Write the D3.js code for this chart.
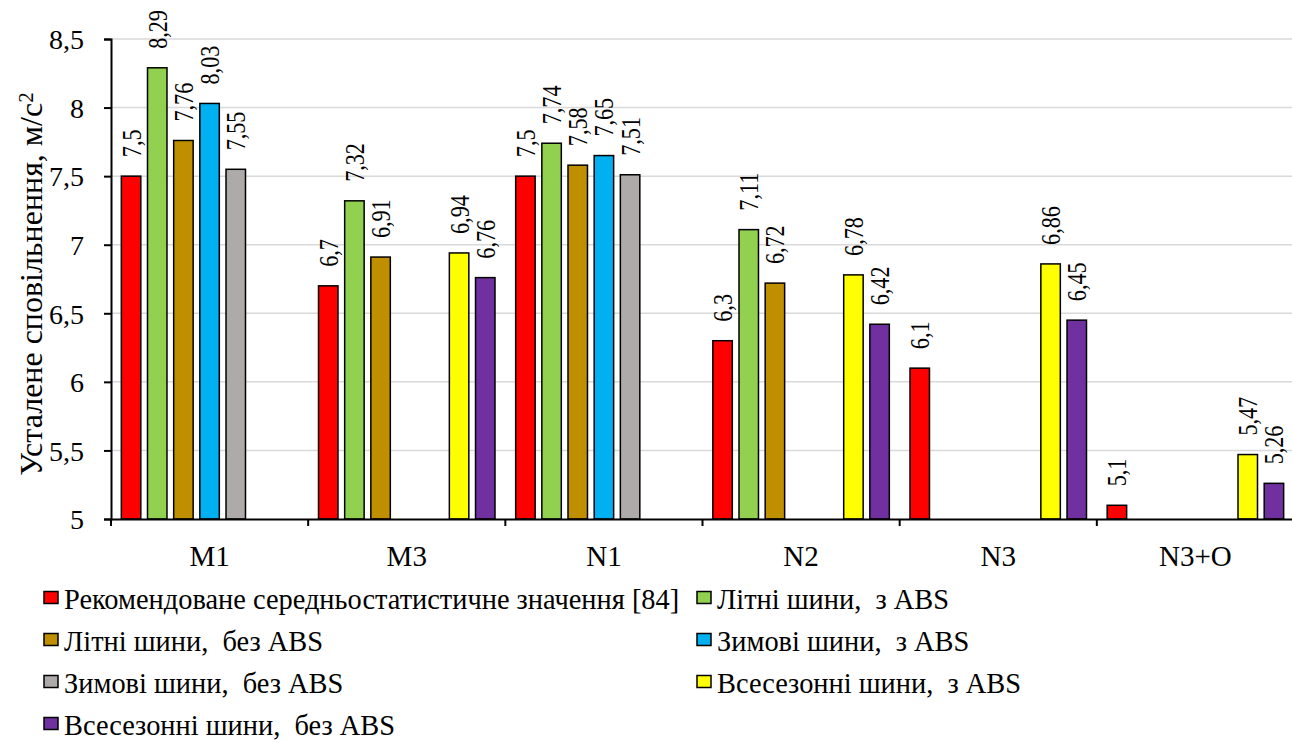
<!DOCTYPE html>
<html>
<head>
<meta charset="utf-8">
<script src="https://cdn.jsdelivr.net/npm/d3@7"></script>
<style>
  html, body { margin: 0; padding: 0; background: #fff; }
  svg { display: block; }
</style>
</head>
<body>
<svg id="chart" width="1292" height="740"></svg>
<script>
// Vehicle categories along the x axis
const categories = ["M1", "M3", "N1", "N2", "N3", "N3+O"];

// Series names (legend entries)
const seriesNames = [
  "Рекомендоване середньостатистичне значення [84]",
  "Літні шини,  з ABS",
  "Літні шини,  без ABS",
  "Зимові шини,  з ABS",
  "Зимові шини,  без ABS",
  "Всесезонні шини,  з ABS",
  "Всесезонні шини,  без ABS"
];

// Steady deceleration, m/s², one value per category (null = no bar)
const recommended    = [7.5, 6.7, 7.5, 6.3, 6.1, 5.1];
const summerABS      = [8.29, 7.32, 7.74, 7.11, null, null];
const summerNoABS    = [7.76, 6.91, 7.58, 6.72, null, null];
const winterABS      = [8.03, null, 7.65, null, null, null];
const winterNoABS    = [7.55, null, 7.51, null, null, null];
const allSeasonABS   = [null, 6.94, null, 6.78, 6.86, 5.47];
const allSeasonNoABS = [null, 6.76, null, 6.42, 6.45, 5.26];

const seriesValues = [recommended, summerABS, summerNoABS, winterABS, winterNoABS, allSeasonABS, allSeasonNoABS];
const seriesColors = ["#FF0000", "#92D050", "#BF8F00", "#00B0F0", "#AEAAAA", "#FFFF00", "#7030A0"];

// Y axis ticks
const yTicks = [5, 5.5, 6, 6.5, 7, 7.5, 8, 8.5];

const fmt = v => String(v).replace(".", ",");
const SERIF = "Liberation Serif";

const svg = d3.select("#chart");

const plot = { left: 111, right: 1294, top: 39, bottom: 519 };

const y = d3.scaleLinear().domain([5, 8.5]).range([plot.bottom, plot.top]);

const x0 = d3.scaleBand().domain(categories).range([plot.left, plot.right]).padding(0);
const x1 = d3.scaleBand().domain(d3.range(seriesNames.length))
  .range([0, x0.bandwidth()]).paddingInner(0.256).paddingOuter(0.395);

// Gridlines
svg.append("g").selectAll("line").data(yTicks.slice(1)).join("line")
  .attr("x1", plot.left).attr("x2", 1292)
  .attr("y1", d => y(d)).attr("y2", d => y(d))
  .attr("stroke", "#d9d9d9").attr("stroke-width", 1.5);

// Bars
const rows = [];
seriesValues.forEach((vals, s) => vals.forEach((v, c) => {
  if (v !== null) rows.push({ s, c: categories[c], v });
}));

svg.append("g").selectAll("rect").data(rows).join("rect")
  .attr("x", d => x0(d.c) + x1(d.s))
  .attr("width", x1.bandwidth())
  .attr("y", d => y(d.v))
  .attr("height", d => y(5) - y(d.v))
  .attr("fill", d => seriesColors[d.s])
  .attr("stroke", "#000").attr("stroke-width", 1.5);

// Value labels, rotated, above each bar
svg.append("g").selectAll("text").data(rows).join("text")
  .attr("transform", d => `translate(${x0(d.c) + x1(d.s) + x1.bandwidth() / 2},${y(d.v) - 19}) rotate(-90) scale(0.82,1)`)
  .attr("dy", "0.35em")
  .attr("text-anchor", "start")
  .style("font-family", SERIF)
  .style("font-size", "27px")
  .text(d => fmt(d.v));

// Y axis
const yAxis = d3.axisLeft(y).tickValues(yTicks).tickSize(7).tickPadding(20).tickFormat(fmt);
const gy = svg.append("g").attr("transform", `translate(${plot.left},0)`).call(yAxis);
gy.select(".domain").attr("stroke", "#000").attr("stroke-width", 2);
gy.selectAll(".tick line").attr("stroke", "#000").attr("stroke-width", 2);
gy.selectAll(".tick text").style("font-family", SERIF).style("font-size", "28px").attr("dy", "0.35em");

// X axis
const xAxis = d3.axisBottom(x0).tickSize(0).tickPadding(26);
const gx = svg.append("g").attr("transform", `translate(0,${plot.bottom})`).call(xAxis);
gx.select(".domain").attr("stroke", "#000").attr("stroke-width", 2);
gx.selectAll(".tick text").style("font-family", SERIF).style("font-size", "29px");
// Category separators
gx.append("g").selectAll("line").data(categories).join("line")
  .attr("x1", d => x0(d)).attr("x2", d => x0(d))
  .attr("y1", 0).attr("y2", 7)
  .attr("stroke", "#000").attr("stroke-width", 2);

// Y axis title
const yt = svg.append("text")
  .attr("transform", "translate(42,284) rotate(-90)")
  .attr("text-anchor", "middle")
  .style("font-family", SERIF)
  .style("font-size", "32px");
yt.append("tspan").text("Усталене сповільнення, м/с");
yt.append("tspan").attr("dy", "-0.45em").style("font-size", "21px").text("2");

// Legend: two columns, row-major
const legendCols = [44, 697];
const legendRow0 = 608.5, legendStep = 42;
const lg = svg.append("g").selectAll("g").data(seriesNames).join("g")
  .attr("transform", (d, i) => `translate(${legendCols[i % 2]},${legendRow0 + Math.floor(i / 2) * legendStep})`);
lg.append("rect").attr("x", 0).attr("y", -17).attr("width", 14).attr("height", 12)
  .attr("fill", (d, i) => seriesColors[i]).attr("stroke", "#000").attr("stroke-width", 1.5);
lg.append("text").attr("x", 20).attr("y", 0)
  .style("font-family", SERIF).style("font-size", "28.4px").style("white-space", "pre").text(d => d);
</script>
</body>
</html>
